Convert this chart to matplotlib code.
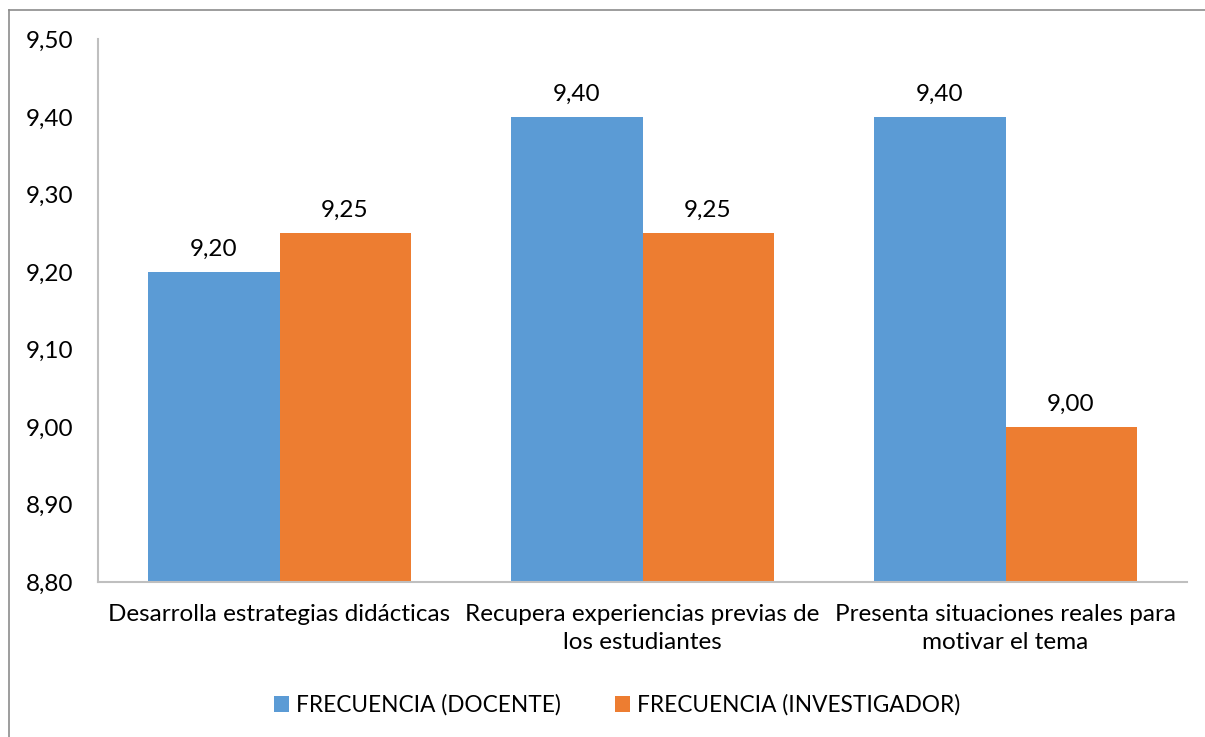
import matplotlib.pyplot as plt
import matplotlib.ticker as mtick
from matplotlib.lines import Line2D
import numpy as np

# Data
categorias = ['Desarrolla estrategias didácticas',
              'Recupera experiencias previas de\nlos estudiantes',
              'Presenta situaciones reales para\nmotivar el tema']
docente = [9.20, 9.40, 9.40]
investigador = [9.25, 9.25, 9.00]
series = ['FRECUENCIA (DOCENTE)', 'FRECUENCIA (INVESTIGADOR)']

azul = '#5B9BD5'
naranja = '#ED7D31'
gris = '#BFBFBF'

plt.rcParams['font.family'] = ['Lato', 'DejaVu Sans']

fig = plt.figure(figsize=(12.05, 7.37), dpi=100)
ax = fig.add_axes([98 / 1205, 1 - 582 / 737, 1089 / 1205, 542.5 / 737])

x = np.arange(len(categorias))
w = 0.361
b1 = ax.bar(x - w / 2, np.array(docente) - 8.8, w, bottom=8.8, color=azul, label=series[0])
b2 = ax.bar(x + w / 2, np.array(investigador) - 8.8, w, bottom=8.8, color=naranja, label=series[1])

fmt = lambda v: f'{v:.2f}'.replace('.', ',')
for bars, vals in [(b1, docente), (b2, investigador)]:
    for r, v in zip(bars, vals):
        ax.annotate(fmt(v), (r.get_x() + r.get_width() / 2, v), xytext=(0, 9),
                    textcoords='offset points', ha='center', va='bottom', fontsize=17.5, color='#000000')

ax.set_xlim(-0.5, 2.5)
ax.set_ylim(8.8, 9.5)
ax.set_yticks(np.arange(8.8, 9.501, 0.1))
ax.yaxis.set_major_formatter(mtick.FuncFormatter(lambda v, p: fmt(v)))
ax.set_xticks(x)
ax.set_xticklabels(categorias, fontsize=17.5, linespacing=1.4)
ax.tick_params(axis='y', length=0, pad=18, labelsize=17.5)
ax.tick_params(axis='x', length=0, pad=16)

for s in ['top', 'right']:
    ax.spines[s].set_visible(False)
for s in ['left', 'bottom']:
    ax.spines[s].set_color(gris)
    ax.spines[s].set_linewidth(1.5)

leg = fig.legend(handles=[b1, b2], labels=series, loc='center', bbox_to_anchor=(617 / 1205, 1 - 705 / 737),
                 ncol=2, frameon=False, fontsize=16.3, handlelength=0.68, handleheight=0.68,
                 handletextpad=0.3, columnspacing=2.4)

# chart border (only left and top visible in the reference)
fig.add_artist(Line2D([8.5 / 1205, 8.5 / 1205], [0, 1 - 10 / 737], color='#8C8C8C', lw=1.2))
fig.add_artist(Line2D([8.5 / 1205, 1], [1 - 10 / 737, 1 - 10 / 737], color='#8C8C8C', lw=1.2))

fig.savefig('out.png', dpi=100)
